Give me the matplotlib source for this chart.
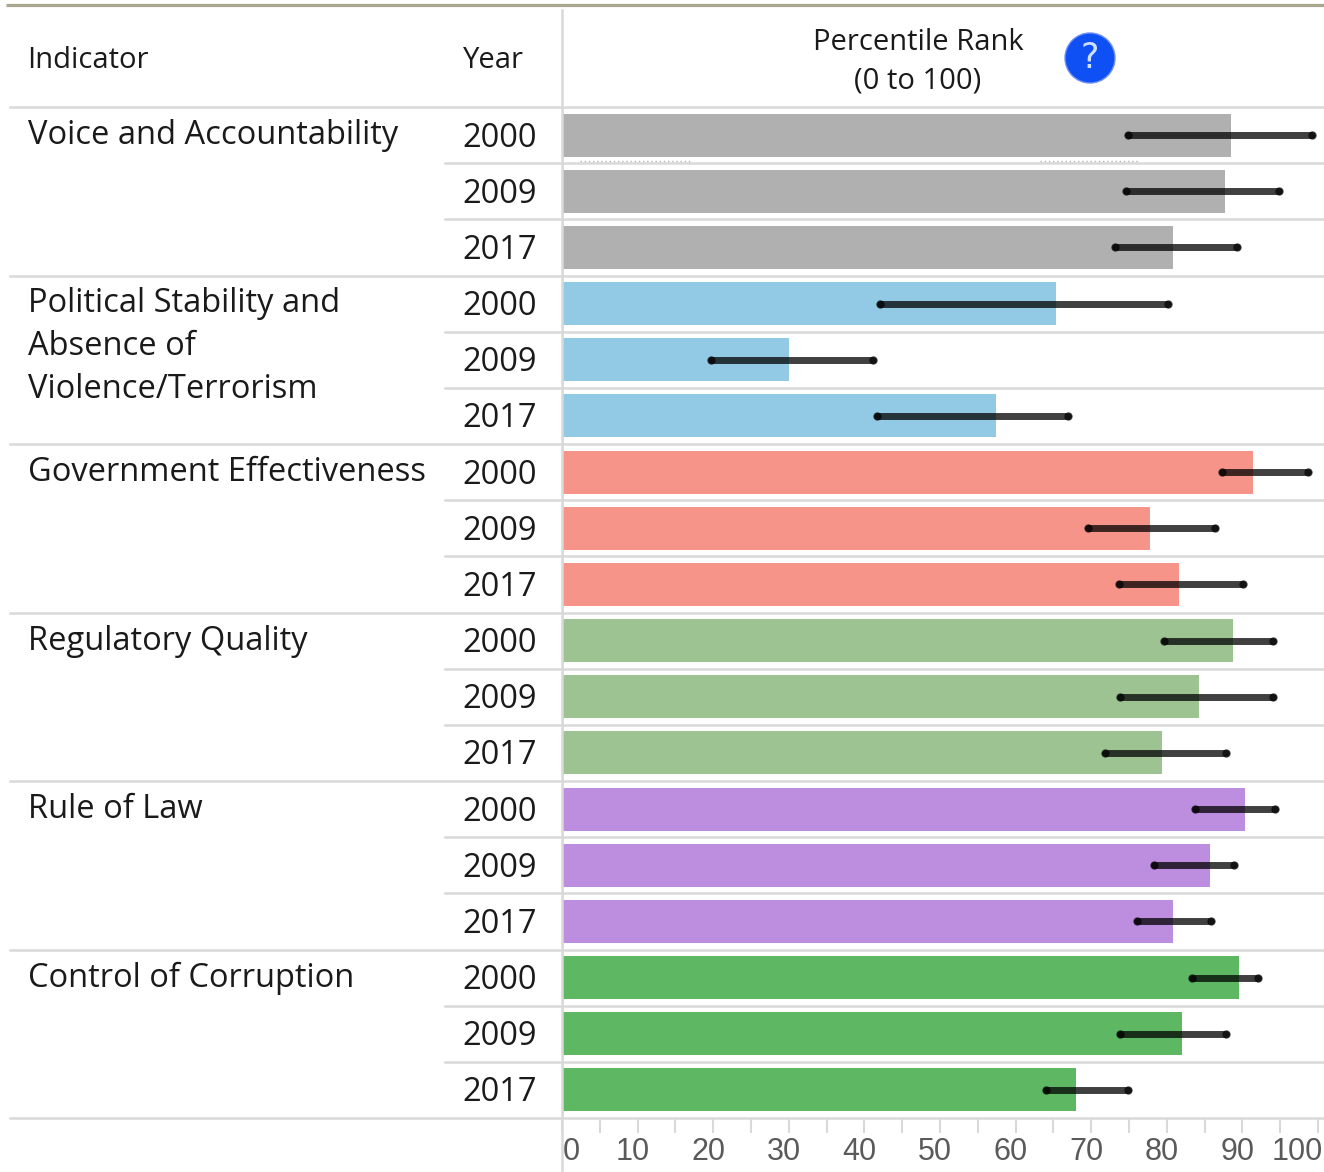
import matplotlib
matplotlib.use('Agg')
import matplotlib.pyplot as plt
from matplotlib.patches import Circle
from matplotlib.transforms import ScaledTranslation

indicators = ['Voice and Accountability',
              'Political Stability and\nAbsence of\nViolence/Terrorism',
              'Government Effectiveness',
              'Regulatory Quality',
              'Rule of Law',
              'Control of Corruption']
years = ['2000', '2009', '2017']
colors = ['#b0b0b0', '#92c9e4', '#f7948a', '#9dc393', '#bd8ddf', '#5eb762']

voice = [88.5, 87.7, 80.8]
voice_lo = [74.9, 74.6, 73.1]
voice_hi = [99.2, 94.8, 89.3]
stability = [65.3, 30.0, 57.4]
stability_lo = [42.1, 19.7, 41.7]
stability_hi = [80.2, 41.1, 66.9]
government = [91.4, 77.8, 81.6]
government_lo = [87.3, 69.6, 73.7]
government_hi = [98.7, 86.4, 90.1]
regulatory = [88.8, 84.3, 79.4]
regulatory_lo = [79.6, 73.8, 71.8]
regulatory_hi = [94.0, 94.0, 87.8]
law = [90.3, 85.7, 80.8]
law_lo = [83.7, 78.3, 76.1]
law_hi = [94.3, 88.9, 85.8]
corruption = [89.6, 82.0, 68.0]
corruption_lo = [83.3, 73.8, 64.0]
corruption_hi = [92.1, 87.8, 74.9]

ranks = [voice, stability, government, regulatory, law, corruption]
lows = [voice_lo, stability_lo, government_lo, regulatory_lo, law_lo, corruption_lo]
highs = [voice_hi, stability_hi, government_hi, regulatory_hi, law_hi, corruption_hi]

W, H = 1324, 1172
plt.rcParams['font.family'] = ['Open Sans', 'DejaVu Sans']
fig = plt.figure(figsize=(W / 100, H / 100), dpi=100)

# overlay in pixels for the table lines and texts
bg = fig.add_axes([0, 0, 1, 1])
bg.set_xlim(0, W)
bg.set_ylim(H, 0)
bg.axis('off')

# axes for the bars, 0 is at x=562 and 100 at x=1318
top, bottom = 107, 1118
ax = fig.add_axes([562 / W, 1 - bottom / H, (W - 562) / W, (bottom - top) / H])
ax.patch.set_alpha(0)
ax.set_xlim(0, (W - 562) / 7.56)
ax.set_ylim(18, 0)
for s in ax.spines.values():
    s.set_visible(False)
ax.set_yticks([])

row_h = (bottom - top) / 18
line_c = '#d9d9d9'
bg.plot([6, W], [5, 5], color='#aaa790', lw=2.3, solid_capstyle='butt')
bg.plot([562, 562], [10, H], color=line_c, lw=1.8)
bg.plot([10, W], [107, 107], color=line_c, lw=1.8)

for i in range(len(indicators)):
    base = i * 3
    for j in range(3):
        y = base + j + 0.5
        ax.barh(y, ranks[i][j], height=0.765, color=colors[i], zorder=2)
        # confidence range, line with alpha and darker end dots
        ax.plot([lows[i][j], highs[i][j]], [y, y], color='black', alpha=0.75, lw=5.0,
                solid_capstyle='round', zorder=3)
        ax.plot([lows[i][j], highs[i][j]], [y, y], 'o', color='black', ms=6.0, mew=0, alpha=0.7, zorder=4)
        py = top + y * row_h
        bg.text(500, py + 3, years[j], fontsize=23.5, color='#1a1a1a', ha='center', va='center')
        if j < 2:
            bg.plot([445, W], [top + (base + j + 1) * row_h] * 2, color=line_c, lw=1.8)
    bg.plot([10, W], [top + (base + 3) * row_h] * 2, color=line_c, lw=1.8)
    bg.text(27.5, top + base * row_h + 12, indicators[i], fontsize=23.5, color='#1a1a1a',
            ha='left', va='top', linespacing=1.39)

# axis line drawn over the bars start
ax.axvline(0, color=line_c, lw=1.8, zorder=5)

bg.text(27.5, 61, 'Indicator', fontsize=21, color='#1a1a1a', va='center')
bg.text(463, 61, 'Year', fontsize=21, color='#1a1a1a', va='center')
bg.text(918, 62, 'Percentile Rank\n(0 to 100)', fontsize=21, color='#1a1a1a',
        ha='center', va='center', linespacing=1.42)

# help icon
bg.add_patch(Circle((1090, 58), 25, facecolor='#0f50f5', edgecolor='#6f8ff5', lw=1))
bg.text(1090, 58, '?', fontsize=25, color='#cfe0ff', ha='center', va='center',
        family='DejaVu Sans')

# faint dotted marks under the first bar
bg.plot([580, 692], [161, 161], color='#b5b5b5', lw=1, ls=(0, (1, 2)))
bg.plot([1040, 1138], [161, 161], color='#b5b5b5', lw=1, ls=(0, (1, 2)))

# axis ticks every 5, labels on the tens
ticks = list(range(0, 101, 5))
ax.set_xticks(ticks)
ax.set_xticklabels([str(t) if t % 10 == 0 else '' for t in ticks],
                   fontsize=22, color='#5a5a5a', family=['Liberation Sans'])
ax.tick_params(axis='x', length=11, width=1.5, color=line_c, pad=3)
for t, lab in zip(ticks, ax.get_xticklabels()):
    dx = -5
    if t == 0:
        dx = 9
    elif t == 100:
        dx = -21
    lab.set_transform(lab.get_transform() + ScaledTranslation(dx / 100, 0, fig.dpi_scale_trans))

fig.savefig('out.png', dpi=100)
